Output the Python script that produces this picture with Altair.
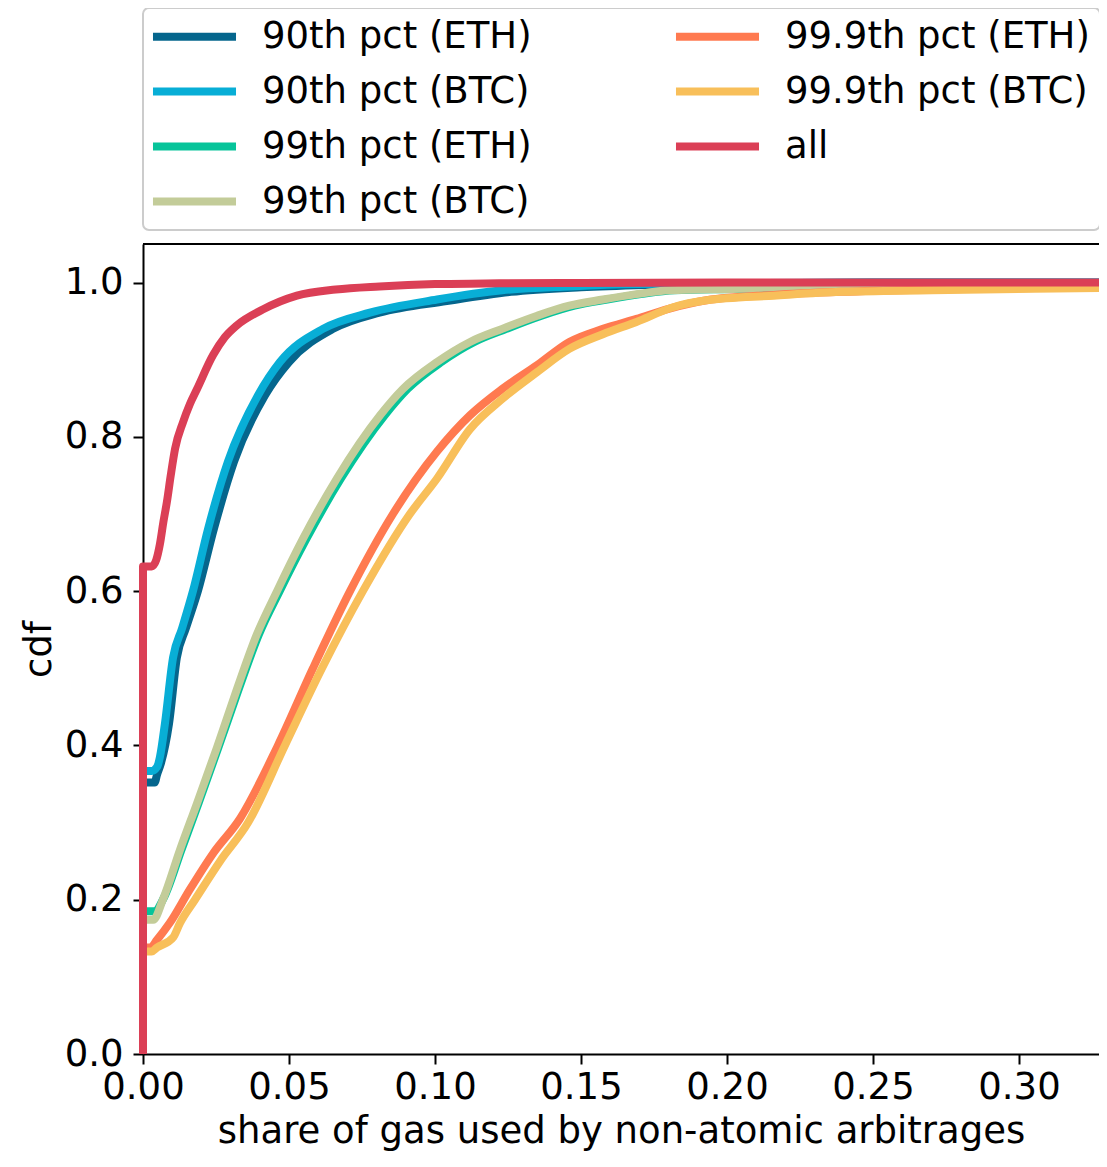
import altair as alt
import pandas as pd

SERIES = ["90th pct (ETH)", "90th pct (BTC)", "99th pct (ETH)", "99th pct (BTC)",
          "99.9th pct (ETH)", "99.9th pct (BTC)", "all"]
COLORS = ["#05668D", "#08AED6", "#06C49A", "#C3CC99", "#FF7A50", "#F8BF5A", "#DB3F56"]

ETH90_X = [0, 0, 0.0040, 0.0048, 0.0060, 0.0089, 0.0116, 0.0147, 0.0188, 0.0243, 0.0312, 0.0418,
           0.0500, 0.0651, 0.0810, 0.1040, 0.1260, 0.1500, 0.1720, 0.2000, 0.2500, 0.3300]
ETH90_Y = [0, 0.352, 0.352, 0.362, 0.375, 0.428, 0.514, 0.552, 0.600, 0.681, 0.768, 0.854,
           0.897, 0.940, 0.961, 0.976, 0.988, 0.994, 0.997, 0.999, 1.000, 1.000]

BTC90_X = [0, 0, 0.0030, 0.0048, 0.0058, 0.0075, 0.0103, 0.0134, 0.0171, 0.0223, 0.0291, 0.0394,
           0.0469, 0.0616, 0.0777, 0.1007, 0.1230, 0.1460, 0.1690, 0.2000, 0.2500, 0.3300]
BTC90_Y = [0, 0.367, 0.367, 0.372, 0.385, 0.428, 0.514, 0.552, 0.600, 0.681, 0.768, 0.854,
           0.897, 0.940, 0.961, 0.978, 0.990, 0.995, 0.998, 0.999, 1.000, 1.000]

ETH99_X = [0, 0, 0.0040, 0.0072, 0.0132, 0.0190, 0.0258, 0.0326, 0.0397, 0.0468, 0.0560, 0.0678,
           0.0828, 0.0906, 0.1022, 0.1135, 0.1245, 0.1365, 0.1478, 0.1590, 0.1705, 0.1820, 0.2050,
           0.2260, 0.2600, 0.3300]
ETH99_Y = [0, 0.185, 0.185, 0.203, 0.265, 0.325, 0.397, 0.471, 0.544, 0.600, 0.668, 0.746,
           0.828, 0.862, 0.897, 0.923, 0.940, 0.957, 0.970, 0.978, 0.985, 0.990, 0.992,
           0.995, 0.997, 0.999]

BTC99_X = [0, 0, 0.0035, 0.0068, 0.0127, 0.0185, 0.0253, 0.0320, 0.0390, 0.0459, 0.0548, 0.0664,
           0.0812, 0.0890, 0.1007, 0.1120, 0.1230, 0.1350, 0.1460, 0.1575, 0.1690, 0.1805, 0.2040,
           0.2250, 0.2600, 0.3300]
BTC99_Y = [0, 0.174, 0.174, 0.200, 0.265, 0.325, 0.397, 0.471, 0.544, 0.600, 0.668, 0.746,
           0.828, 0.862, 0.897, 0.923, 0.940, 0.957, 0.970, 0.978, 0.985, 0.990, 0.992,
           0.995, 0.997, 0.999]

ETH999_X = [0, 0, 0.0025, 0.0048, 0.0092, 0.0160, 0.0240, 0.0332, 0.0462, 0.0582, 0.0709, 0.0856,
            0.1007, 0.1120, 0.1230, 0.1350, 0.1460, 0.1575, 0.1690, 0.1800, 0.1930, 0.2160,
            0.2390, 0.2700, 0.3050, 0.3300]
ETH999_Y = [0, 0.138, 0.138, 0.148, 0.170, 0.213, 0.260, 0.305, 0.400, 0.500, 0.600, 0.700,
            0.781, 0.828, 0.862, 0.893, 0.923, 0.940, 0.953, 0.966, 0.977, 0.984,
            0.988, 0.991, 0.993, 0.994]

BTC999_X = [0, 0, 0.0030, 0.0048, 0.0103, 0.0127, 0.0178, 0.0264, 0.0360, 0.0486, 0.0613, 0.0753,
            0.0914, 0.1007, 0.1120, 0.1230, 0.1350, 0.1460, 0.1575, 0.1690, 0.1815, 0.1930,
            0.2160, 0.2390, 0.2700, 0.3050, 0.3300]
BTC999_Y = [0, 0.133, 0.133, 0.138, 0.151, 0.170, 0.200, 0.250, 0.300, 0.400, 0.500, 0.600,
            0.700, 0.746, 0.810, 0.849, 0.884, 0.914, 0.933, 0.949, 0.968, 0.977,
            0.983, 0.988, 0.990, 0.992, 0.993]

ALL_X = [0, 0, 0.0030, 0.0045, 0.0058, 0.0070, 0.0082, 0.0095, 0.0110, 0.0137, 0.0160, 0.0185,
         0.0240, 0.0280, 0.0320, 0.0410, 0.0527, 0.0660, 0.0810, 0.1000, 0.1220, 0.1500, 0.2000,
         0.3300]
ALL_Y = [0, 0.632, 0.632, 0.640, 0.661, 0.690, 0.716, 0.750, 0.785, 0.819, 0.842, 0.862,
         0.906, 0.929, 0.944, 0.965, 0.983, 0.991, 0.995, 0.998, 0.999, 0.9995, 1.000,
         1.000]

X_TICKS = [0.0, 0.05, 0.10, 0.15, 0.20, 0.25, 0.30]
Y_TICKS = [0.0, 0.2, 0.4, 0.6, 0.8, 1.0]

XS = [ETH90_X, BTC90_X, ETH99_X, BTC99_X, ETH999_X, BTC999_X, ALL_X]
YS = [ETH90_Y, BTC90_Y, ETH99_Y, BTC99_Y, ETH999_Y, BTC999_Y, ALL_Y]

rows = []
for name, xs, ys in zip(SERIES, XS, YS):
    for i, (x, y) in enumerate(zip(xs, ys)):
        rows.append({"series": name, "x": x, "y": y, "i": i})
df = pd.DataFrame(rows)

FONT = "DejaVu Sans"
W, H = 956, 810
TOP = 236

lines = alt.Chart(df).mark_line(strokeWidth=8, strokeJoin="round", strokeCap="butt",
                                interpolate="monotone").encode(
    x=alt.X("x:Q",
            scale=alt.Scale(domain=[0, 0.3274], nice=False, zero=False),
            axis=alt.Axis(values=X_TICKS, format=".2f",
                          title="share of gas used by non-atomic arbitrages",
                          titleY=88, titleBaseline="alphabetic", labelPadding=5)),
    y=alt.Y("y:Q",
            scale=alt.Scale(domain=[0, 1.05], nice=False),
            axis=alt.Axis(values=Y_TICKS, format=".1f", title="cdf",
                          titleX=-93, titleBaseline="alphabetic", labelPadding=10)),
    color=alt.Color("series:N",
                    scale=alt.Scale(domain=SERIES, range=COLORS),
                    legend=alt.Legend(orient="none", legendX=0, legendY=-TOP, columns=2,
                                      columnPadding=127, rowPadding=17,
                                      symbolType="M-3,0H3", symbolSize=766,
                                      symbolStrokeWidth=8, symbolOffset=23, labelOffset=49,
                                      padding=10, strokeColor="#cccccc", cornerRadius=6,
                                      fillColor="white", labelFont=FONT, labelFontSize=37,
                                      labelColor="black", labelLimit=1000, title=None)),
    order="i:Q",
)

spine = alt.Chart(pd.DataFrame({"a": [0]})).mark_rule(color="black", strokeWidth=2).encode(
    x=alt.value(0), x2=alt.value(W), y=alt.value(0)
)

chart = alt.layer(lines, spine).properties(
    width=W, height=H,
    padding={"left": 135, "top": TOP, "right": 0, "bottom": 97},
    autosize=alt.AutoSizeParams(type="none"),
).configure(font=FONT).configure_view(stroke="transparent").configure_axis(
    domainColor="black", domainWidth=2, tickColor="black", tickWidth=2, tickSize=10,
    labelFont=FONT, labelFontSize=37, labelColor="black",
    titleFont=FONT, titleFontSize=37, titleFontWeight="normal", titleColor="black",
    grid=False, labelFlush=False, labelOverlap=False,
).configure_legend(strokeWidth=2)

chart.save("out.html", embed_options={"renderer": "svg", "actions": False})
